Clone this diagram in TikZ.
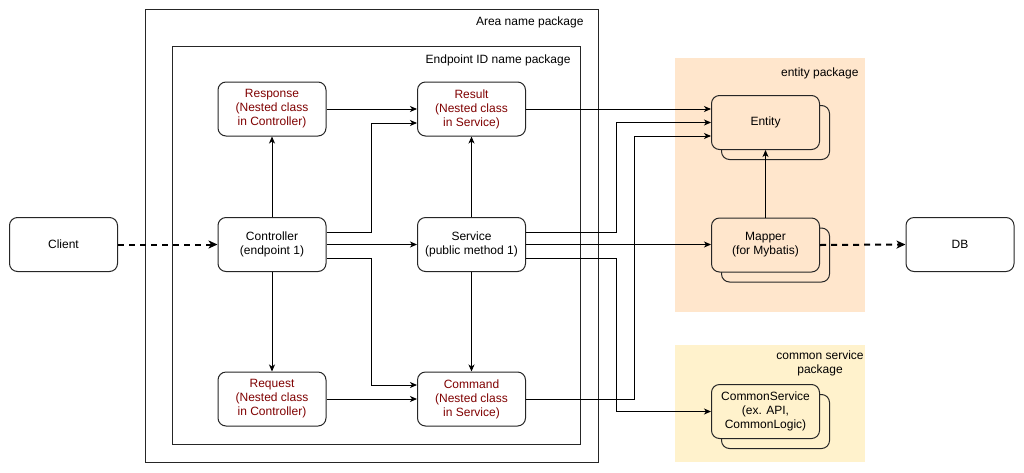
\documentclass[tikz,border=0pt]{standalone}
\usepackage{fontspec}
\setmainfont{Liberation Sans}
\usetikzlibrary{arrows.meta}
\definecolor{nestedred}{RGB}{128,0,0}
\definecolor{entitybg}{RGB}{255,230,204}
\definecolor{commonbg}{RGB}{255,242,204}

\begin{document}
\begin{tikzpicture}[x=1pt,y=-1pt,
  font=\fontsize{12}{14}\selectfont,
  box/.style={draw=black!85, line width=1pt, rounded corners=8pt,
    minimum width=108pt, minimum height=54pt, align=center,
    inner sep=0pt, fill=white},
  nestedbox/.style={box, text=nestedred},
  pkg/.style={draw=black!85, line width=1pt},
  arr/.style={line width=0.9pt, -{Stealth[length=7pt,width=6pt,inset=2pt]}},
  dasharr/.style={line width=2pt, dash pattern=on 6pt off 5pt,
    -{Stealth[length=9pt,width=8pt,inset=2.5pt]}}]

\useasboundingbox (0,0) rectangle (1024,472);

% package frames and coloured package areas
\draw[pkg] (145,9) rectangle (598,462);
\draw[pkg] (172,46) rectangle (580,444);
\fill[entitybg] (675,58) rectangle (865,312);
\fill[commonbg] (675,345) rectangle (865,462);

\node[anchor=east] (areaLbl) at (587,22) {Area name package};
\node[anchor=east] (endpointLbl) at (574,60) {Endpoint ID name package};
\node[anchor=east] (entityLbl) at (862,73) {entity package};
\node[align=center] (commonLbl) at (820,363) {common service\\ package};

% classes inside the endpoint package
\node[nestedbox] (response) at (272,109) {Response\\(Nested class\\in Controller)};
\node[nestedbox] (result) at (471.5,109) {Result\\(Nested class\\in Service)};
\node[box] (ctrl) at (272,244.5) {Controller\\(endpoint 1)};
\node[box] (service) at (471.5,244.5) {Service\\(public method 1)};
\node[nestedbox] (request) at (272,399) {Request\\(Nested class\\in Controller)};
\node[nestedbox] (command) at (471.5,399) {Command\\(Nested class\\in Service)};

% outside actors
\node[box] (client) at (63.5,244.5) {Client};
\node[box] (db) at (960,244.5) {DB};

% stacked (multiple) classes
\node[box, fill=entitybg] (entityBack) at (775.5,132.5) {};
\node[box, fill=entitybg] (entity) at (765.5,122.5) {Entity};
\node[box, fill=entitybg] (mapperBack) at (775.5,255) {};
\node[box, fill=entitybg] (mapper) at (765.5,245) {Mapper\\(for Mybatis)};
\node[box, fill=commonbg] (commonBack) at (775.5,421.5) {};
\node[box, fill=commonbg] (common) at (765.5,411.5) {CommonService\\(ex. API,\\CommonLogic)};

% connectors
\draw[dasharr] (client) -- (ctrl);
\draw[dasharr] (mapper.east) -- (db.west);

\draw[arr] (ctrl) -- (response);
\draw[arr] (ctrl) -- (request);
\draw[arr] (ctrl) -- (service);
\draw[arr] (response) -- (result);
\draw[arr] (request) -- (command);
\draw[arr] ([yshift=12.5pt]ctrl.east) -- ++(45,0) |- ([yshift=-14pt]result.west);
\draw[arr] ([yshift=-13.5pt]ctrl.east) -- ++(45,0) |- ([yshift=14pt]command.west);

\draw[arr] (service) -- (result);
\draw[arr] (service) -- (command);
\draw[arr] (result.east) -- (result.east -| entity.west);
\draw[arr] ([yshift=12.5pt]service.east) -- ++(90,0) |- (entity.west);
\draw[arr] (service.east) -- (service.east -| mapper.west);
\draw[arr] ([yshift=-13.5pt]service.east) -- ++(90,0) |- (common.west);
\draw[arr] (command.east) -- ++(108,0) |- ([yshift=-13.5pt]entity.west);
\draw[arr] (mapper) -- (entity);

\end{tikzpicture}
\end{document}
